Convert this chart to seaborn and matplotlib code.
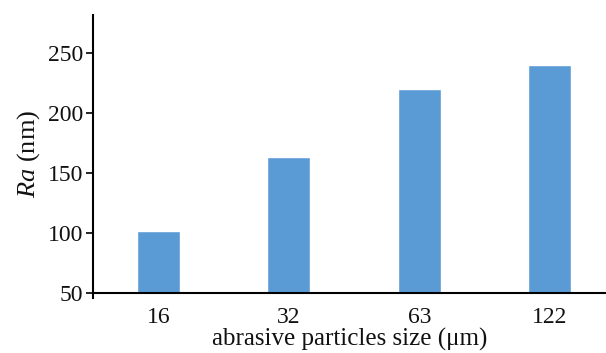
import matplotlib
matplotlib.use("Agg")
import matplotlib.pyplot as plt
import seaborn as sns
import pandas as pd

# Surface roughness versus abrasive grain size
sizes = ["16", "32", "63", "122"]
ra_nm = [102, 163, 220, 240]
y_ticks = [50, 100, 150, 200, 250]

sns.set_theme(style="white")
plt.rcParams["font.family"] = ["Liberation Serif", "DejaVu Serif"]
plt.rcParams["mathtext.fontset"] = "custom"
plt.rcParams["mathtext.it"] = "Liberation Serif:italic"
plt.rcParams["mathtext.rm"] = "Liberation Serif"
plt.rcParams["text.color"] = "#111111"
plt.rcParams["axes.labelcolor"] = "#111111"
plt.rcParams["xtick.color"] = "#111111"
plt.rcParams["ytick.color"] = "#111111"

df = pd.DataFrame({"size": sizes, "ra": ra_nm})

fig = plt.figure(figsize=(6.06, 3.53), dpi=100)
ax = fig.add_axes([93 / 606, 60 / 353, 1 - 93 / 606, (293 - 15) / 353])

sns.barplot(data=df, x="size", y="ra", color="#5B9BD5", saturation=1,
            width=0.33, ax=ax)

ax.set_xlim(-0.5, 3.43)
ax.set_ylim(50, 281.7)
ax.set_yticks(y_ticks)
ax.tick_params(axis="y", direction="out", length=5, width=1.2, color="black",
               labelsize=17, pad=2, left=True)
ax.tick_params(axis="x", length=0, labelsize=17, pad=10)

for side in ("top", "right"):
    ax.spines[side].set_visible(False)
for side in ("left", "bottom"):
    ax.spines[side].set_color("black")
    ax.spines[side].set_linewidth(1.5)
ax.spines["left"].set_bounds(45.5, 281.7)

ax.set_xlabel("abrasive particles size (μm)", fontsize=18, labelpad=0)
ax.set_ylabel(r"$\mathit{Ra}$ (nm)", fontsize=19, labelpad=4)

fig.savefig("out.png", dpi=100)
